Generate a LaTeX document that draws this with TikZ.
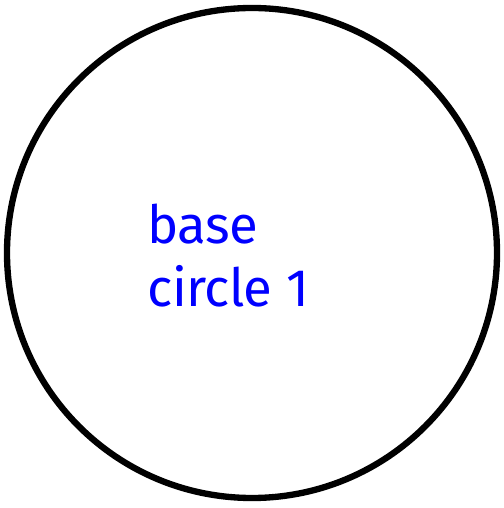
\documentclass[tikz,border=0pt]{standalone}
\usepackage{fontspec}
\setmainfont{Fira Sans}
\definecolor{labelblue}{RGB}{0,0,255}
\tikzset{
	basecircle/.style={draw=black, line width=3.6pt, circle, minimum size=9.8cm, inner sep=0pt},
	circlelabel/.style={align=left, text=labelblue, font=\fontsize{30}{36.4}\selectfont\addfontfeature{LetterSpace=-1}, inner sep=0pt}
}
\begin{document}
\begin{tikzpicture}
	\useasboundingbox (0,0) rectangle (10.06,10.16);
	
	\node[basecircle] (base) at (5.04,5.1) {};
	\node[circlelabel, anchor=base west] (label) at (2.94,4.02) {base\\circle 1};
	
\end{tikzpicture}
\end{document}
